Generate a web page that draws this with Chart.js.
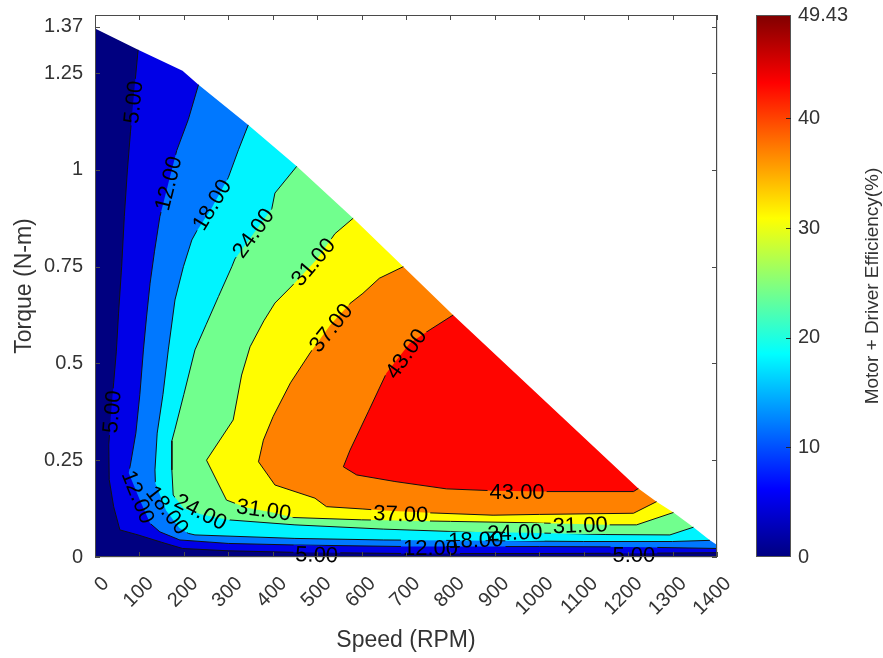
<!DOCTYPE html>
<html>
<head>
<meta charset="utf-8">
<script src="https://cdn.jsdelivr.net/npm/chart.js@4/dist/chart.umd.min.js"></script>
<style>
  html, body { margin: 0; background: #fff; }
</style>
</head>
<body>
<canvas id="effMap" width="883" height="658"></canvas>
<script>
var speedTicks = [0, 100, 200, 300, 400, 500, 600, 700, 800, 900, 1000, 1100, 1200, 1300, 1400];
var torqueTicks = [0, 0.25, 0.5, 0.75, 1, 1.25, 1.37];
var effTicks = [0, 10, 20, 30, 40, 49.43];
var effMax = 49.43;
var levels = [5, 12, 18, 24, 31, 37, 43];
var speedMax = 1400, torqueMax = 1.4;

// max torque reached at each speed (upper edge of the measured area)
var envelope = [[0, 1.365], [97, 1.31], [197, 1.256], [233, 1.22], [345, 1.116], [454, 1.009],
  [581, 0.875], [694, 0.75], [806, 0.625], [1223, 0.177], [1264, 0.143], [1302, 0.115],
  [1347, 0.077], [1384, 0.043], [1400, 0.031]];

// iso-efficiency lines [speed, torque]
var c5 = [[97, 1.31], [88, 1.2], [80, 1.1], [73, 1.0], [66, 0.88], [60, 0.75], [53, 0.63], [48, 0.53],
  [42, 0.45], [36, 0.37], [31, 0.29], [32, 0.2], [42, 0.13], [56, 0.07], [97, 0.057], [150, 0.038],
  [197, 0.022], [300, 0.016], [450, 0.012], [700, 0.009], [1000, 0.009], [1250, 0.01], [1400, 0.011]];
var c12 = [[233, 1.22], [210, 1.13], [184, 1.05], [165, 0.965], [146, 0.879], [134, 0.79], [124, 0.707],
  [116, 0.62], [109, 0.535], [101, 0.42], [92, 0.32], [80, 0.24], [76, 0.217], [100, 0.15], [124, 0.087],
  [146, 0.065], [191, 0.044], [300, 0.035], [450, 0.031], [700, 0.027], [1000, 0.027], [1200, 0.026],
  [1400, 0.022]];
var c18 = [[345, 1.116], [323, 1.052], [300, 0.98], [262, 0.9], [228, 0.84], [218, 0.819], [199, 0.75],
  [180, 0.664], [165, 0.535], [153, 0.42], [140, 0.32], [135, 0.225], [136, 0.19], [160, 0.12],
  [190, 0.075], [210, 0.061], [225, 0.057], [450, 0.048], [650, 0.044], [900, 0.042], [1100, 0.04],
  [1300, 0.04], [1384, 0.043]];
var c24 = [[454, 1.009], [405, 0.94], [398, 0.9], [315, 0.77], [308, 0.75], [278, 0.673], [250, 0.6],
  [225, 0.535], [200, 0.42], [180, 0.33], [173, 0.3], [173, 0.225], [176, 0.16], [200, 0.125],
  [240, 0.11], [300, 0.096], [450, 0.083], [650, 0.072], [800, 0.066], [1000, 0.062], [1150, 0.058],
  [1294, 0.057], [1347, 0.077]];
var c31 = [[581, 0.875], [540, 0.835], [500, 0.77], [443, 0.7], [405, 0.656], [380, 0.61], [349, 0.543],
  [330, 0.47], [311, 0.354], [251, 0.25], [296, 0.147], [340, 0.128], [400, 0.115], [446, 0.102],
  [600, 0.096], [800, 0.092], [1000, 0.088], [1151, 0.083], [1219, 0.083], [1302, 0.115]];
var c37 = [[694, 0.75], [640, 0.72], [603, 0.681], [574, 0.655], [530, 0.6], [484, 0.527], [440, 0.45],
  [401, 0.363], [379, 0.302], [368, 0.246], [405, 0.186], [495, 0.152], [521, 0.13], [603, 0.124],
  [650, 0.12], [754, 0.114], [896, 0.108], [1000, 0.11], [1212, 0.113], [1264, 0.143]];
var c43 = [[806, 0.625], [754, 0.587], [709, 0.553], [656, 0.475], [615, 0.375], [574, 0.276],
  [559, 0.233], [589, 0.212], [675, 0.195], [791, 0.176], [900, 0.171], [1017, 0.169], [1212, 0.169],
  [1223, 0.177]];
var contours = [c5, c12, c18, c24, c31, c37, c43];

// inline labels: [level, speed, torque, angle in degrees]
var labelSpots = [
  [5, 86, 1.175, -84], [12, 165, 0.965, -76], [18, 263, 0.91, -59], [24, 356, 0.837, -54],
  [31, 491, 0.762, -50], [37, 531, 0.592, -51], [43, 700, 0.525, -55],
  [5, 38, 0.375, -85], [12, 97, 0.155, 68], [18, 163, 0.121, 52], [24, 238, 0.117, 27],
  [31, 380, 0.122, 8], [37, 688, 0.111, 2], [43, 950, 0.168, 0],
  [5, 499, 0.006, 2], [12, 755, 0.023, 0], [18, 857, 0.044, -2], [24, 945, 0.063, -2],
  [31, 1092, 0.082, -2], [5, 1213, 0.006, 0]
];

var FONT = "Arial, 'Liberation Sans', Helvetica, sans-serif";
var labelFont = "22px " + FONT;
var gridColor = 'rgba(38,38,38,0.15)';
var textColor = '#333';
var clear = 'rgba(0,0,0,0)';

function jet(t) {
  var ch = function (d) { return Math.round(255 * Math.max(0, Math.min(1, 1.5 - Math.abs(4 * t - d)))); };
  return 'rgb(' + ch(3) + ',' + ch(2) + ',' + ch(1) + ')';
}

function toXY(pts) {
  return pts.map(function (p) { return { x: p[0], y: p[1] }; });
}

// area at or above a level: the iso line closed through the empty corner
// above the upper edge; the white mask trims it back afterwards
function region(line) {
  var s = line[0], e = line[line.length - 1];
  return line.concat([[speedMax, e[1]], [speedMax, torqueMax], [s[0], torqueMax]]);
}

function fillSet(pts, color) {
  return {
    data: toXY(pts), backgroundColor: color, borderColor: clear, borderWidth: 0,
    fill: 'shape', pointRadius: 0, tension: 0
  };
}

// built bottom layer first, then reversed: Chart.js paints dataset 0 last
var datasets = [];
datasets.push(fillSet([[0, 0], [speedMax, 0], [speedMax, torqueMax], [0, torqueMax]], jet(0)));
contours.forEach(function (c, i) { datasets.push(fillSet(region(c), jet(levels[i] / effMax))); });
datasets.push(fillSet(envelope.concat([[speedMax, torqueMax], [0, torqueMax]]), '#fff'));
contours.forEach(function (c) {
  datasets.push({
    data: toXY(c), isContour: true, borderColor: '#111', borderWidth: 1,
    fill: false, pointRadius: 0, tension: 0
  });
});
datasets.reverse();

function labelBoxes(chart) {
  var ctx = chart.ctx, sx = chart.scales.x, sy = chart.scales.y;
  ctx.save();
  ctx.font = labelFont;
  var boxes = labelSpots.map(function (l) {
    var text = l[0].toFixed(2);
    return {
      text: text, px: sx.getPixelForValue(l[1]), py: sy.getPixelForValue(l[2]),
      ang: l[3] * Math.PI / 180, w: ctx.measureText(text).width + 4, h: 18
    };
  });
  ctx.restore();
  return boxes;
}

var mapDecor = {
  id: 'mapDecor',
  beforeDatasetDraw: function (chart, args) {
    if (!chart.data.datasets[args.index].isContour) return;
    var ctx = chart.ctx;
    ctx.save();
    ctx.beginPath();
    ctx.rect(0, 0, chart.width, chart.height);
    labelBoxes(chart).forEach(function (b) {
      var c = Math.cos(b.ang), s = Math.sin(b.ang), hw = b.w / 2, hh = b.h / 2;
      var pts = [[-hw, -hh], [hw, -hh], [hw, hh], [-hw, hh]].map(function (p) {
        return [b.px + p[0] * c - p[1] * s, b.py + p[0] * s + p[1] * c];
      });
      ctx.moveTo(pts[0][0], pts[0][1]);
      for (var i = 1; i < 4; i++) ctx.lineTo(pts[i][0], pts[i][1]);
      ctx.closePath();
    });
    ctx.clip('evenodd');
  },
  afterDatasetDraw: function (chart, args) {
    if (chart.data.datasets[args.index].isContour) chart.ctx.restore();
  },
  afterDatasetsDraw: function (chart) {
    var ctx = chart.ctx;
    labelBoxes(chart).forEach(function (b) {
      ctx.save();
      ctx.translate(b.px, b.py);
      ctx.rotate(b.ang);
      ctx.font = labelFont;
      ctx.fillStyle = '#000';
      ctx.textAlign = 'center';
      ctx.textBaseline = 'middle';
      ctx.fillText(b.text, 0, 1);
      ctx.restore();
    });
  },
  afterDraw: function (chart) {
    var ctx = chart.ctx, a = chart.chartArea;
    var sx = chart.scales.x, sy = chart.scales.y, cb = chart.scales.cb;
    ctx.save();
    // axes box with inward ticks
    ctx.strokeStyle = '#4a4a4a';
    ctx.lineWidth = 1;
    ctx.strokeRect(a.left + 0.5, a.top + 0.5, a.right - a.left - 1, a.bottom - a.top - 1);
    ctx.beginPath();
    speedTicks.forEach(function (v) {
      var x = Math.round(sx.getPixelForValue(v)) + 0.5;
      ctx.moveTo(x, a.bottom); ctx.lineTo(x, a.bottom - 5);
      ctx.moveTo(x, a.top); ctx.lineTo(x, a.top + 5);
    });
    torqueTicks.forEach(function (v) {
      var y = Math.round(sy.getPixelForValue(v)) + 0.5;
      ctx.moveTo(a.left, y); ctx.lineTo(a.left + 5, y);
      ctx.moveTo(a.right, y); ctx.lineTo(a.right - 5, y);
    });
    ctx.stroke();

    // colour bar
    var x0 = a.right + 39, x1 = a.right + 74;
    var yTop = cb.getPixelForValue(effMax), yBot = cb.getPixelForValue(0);
    var g = ctx.createLinearGradient(0, yBot, 0, yTop);
    for (var i = 0; i <= 32; i++) g.addColorStop(i / 32, jet(i / 32));
    ctx.fillStyle = g;
    ctx.fillRect(x0, yTop, x1 - x0, yBot - yTop);
    ctx.strokeStyle = '#555';
    ctx.strokeRect(x0 + 0.5, yTop + 0.5, x1 - x0 - 1, yBot - yTop - 1);
    ctx.strokeStyle = '#262626';
    ctx.beginPath();
    effTicks.slice(1, -1).forEach(function (v) {
      var y = Math.round(cb.getPixelForValue(v)) + 0.5;
      ctx.moveTo(x1, y); ctx.lineTo(x1 - 5, y);
    });
    ctx.stroke();

    ctx.translate(873, (yTop + yBot) / 2);
    ctx.rotate(-Math.PI / 2);
    ctx.font = '19px ' + FONT;
    ctx.fillStyle = textColor;
    ctx.textAlign = 'center';
    ctx.textBaseline = 'middle';
    ctx.fillText('Motor + Driver Efficiency(%)', 0, 0);
    ctx.restore();
  }
};

Chart.defaults.font.family = FONT;

new Chart(document.getElementById('effMap'), {
  type: 'line',
  data: { datasets: datasets },
  plugins: [mapDecor],
  options: {
    responsive: false,
    animation: false,
    events: [],
    layout: { padding: { top: 15, left: 0, right: 0, bottom: 0 } },
    plugins: { legend: { display: false }, tooltip: { enabled: false } },
    scales: {
      x: {
        type: 'linear', position: 'bottom', min: 0, max: speedMax, z: 1,
        afterBuildTicks: function (s) { s.ticks = speedTicks.map(function (v) { return { value: v }; }); },
        afterFit: function (s) { s.height = 101; },
        grid: { color: gridColor, drawTicks: true, tickLength: 3, tickColor: clear },
        border: { display: false },
        ticks: {
          autoSkip: false, minRotation: 45, maxRotation: 45, padding: 12, labelOffset: 11,
          color: textColor, font: { size: 20 },
          callback: function (v) { return String(v); }
        },
        title: {
          display: true, text: 'Speed (RPM)', color: textColor, font: { size: 23 },
          padding: { top: 0, bottom: 4 }
        }
      },
      y: {
        type: 'linear', position: 'left', min: 0, max: torqueMax, z: 1,
        afterBuildTicks: function (s) { s.ticks = torqueTicks.map(function (v) { return { value: v }; }); },
        afterFit: function (s) { s.width = 95; },
        grid: {
          drawTicks: true, tickLength: 10, tickColor: clear,
          color: function (c) { return c.tick && c.tick.value === 1.37 ? clear : gridColor; }
        },
        border: { display: false },
        ticks: {
          autoSkip: false, padding: 2, color: textColor, font: { size: 20 },
          callback: function (v) { return String(v); }
        },
        title: {
          display: true, text: 'Torque (N-m)', color: textColor, font: { size: 23 },
          padding: { top: 11, bottom: 0 }
        }
      },
      cb: {
        type: 'linear', position: 'right', min: 0, max: effMax,
        afterBuildTicks: function (s) { s.ticks = effTicks.map(function (v) { return { value: v }; }); },
        afterFit: function (s) { s.width = 166; },
        grid: { display: true, drawOnChartArea: false, drawTicks: true, tickLength: 79, tickColor: clear, color: clear },
        border: { display: false },
        ticks: {
          autoSkip: false, padding: 2, color: textColor, font: { size: 20 },
          callback: function (v) { return String(v); }
        }
      }
    }
  }
});
</script>
</body>
</html>
